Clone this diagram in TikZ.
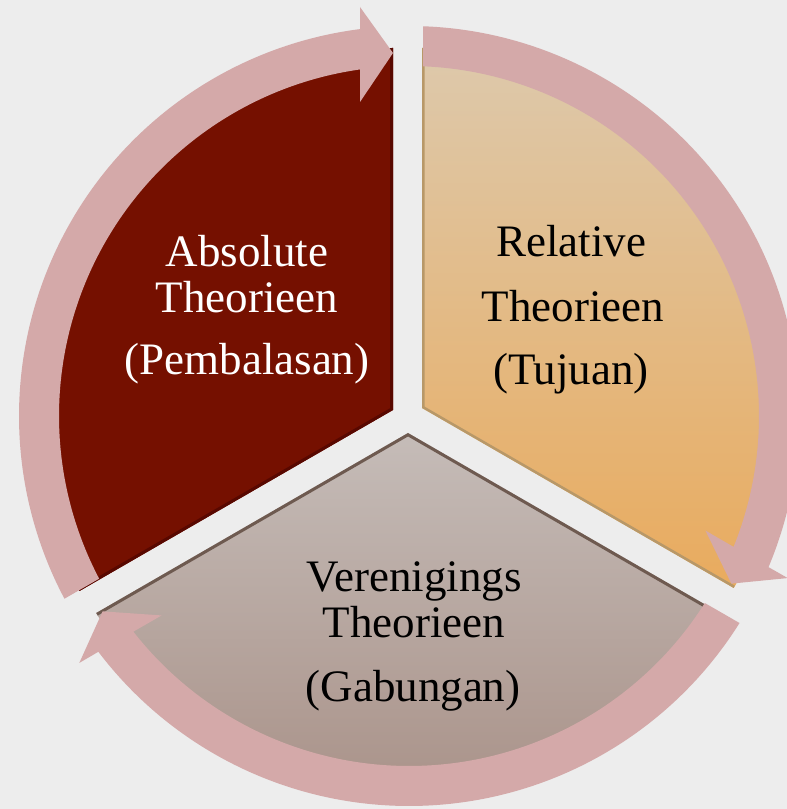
\documentclass[tikz,border=0pt]{standalone}
\usepackage{fontspec}
\setmainfont{Liberation Serif}
\definecolor{bgpaper}{RGB}{237,237,237}
\definecolor{segred}{RGB}{117,16,0}
\definecolor{segreddark}{RGB}{88,8,0}
\definecolor{tantop}{RGB}{221,201,172}
\definecolor{tanbot}{RGB}{233,171,94}
\definecolor{tanedge}{RGB}{184,152,104}
\definecolor{graytop}{RGB}{197,188,184}
\definecolor{graybot}{RGB}{166,141,131}
\definecolor{grayedge}{RGB}{110,90,80}
\definecolor{ringpink}{RGB}{212,169,169}
\tikzset{
  lbl/.style={font=\fontsize{45}{47}\selectfont, inner sep=0pt, anchor=base},
  lblw/.style={lbl, text=white},
  lblb/.style={lbl, text=black},
  ringarrow/.style={fill=ringpink},
}
\begin{document}
\begin{tikzpicture}[x=1pt,y=1pt]
\useasboundingbox (0,0) rectangle (787,809);
\fill[bgpaper] (0,0) rectangle (787,809);

% --- red segment
\fill[segred] (393,399) -- ++(90:362) arc[start angle=90,end angle=210,radius=362] -- cycle;
\begin{scope}
  \clip (393,399) -- ++(90:362) arc[start angle=90,end angle=210,radius=362] -- cycle;
  \draw[line width=6pt, segreddark] (393,399) ++(90:362) -- (393,399) -- ++(210:362);
\end{scope}

% --- tan segment
\shade[top color=tantop, bottom color=tanbot] (422,401) -- ++(-30:360) arc[start angle=-30,end angle=90,radius=360] -- cycle;
\begin{scope}
  \clip (422,401) -- ++(-30:360) arc[start angle=-30,end angle=90,radius=360] -- cycle;
  \draw[line width=5pt, tanedge] (422,401) ++(90:360) -- (422,401) -- ++(-30:360);
\end{scope}

% --- gray segment
\shade[top color=graytop, bottom color=graybot] (408,376) -- ++(210:360) arc[start angle=210,end angle=330,radius=360] -- cycle;
\begin{scope}
  \clip (408,376) -- ++(210:360) arc[start angle=210,end angle=330,radius=360] -- cycle;
  \draw[line width=6pt, grayedge] (408,376) ++(210:360) -- (408,376) -- ++(330:360);
\end{scope}

% --- circular arrows
\foreach \rot in {0,-120,120} {
  \begin{scope}[shift={(409,393)}, rotate=\rot]
    \fill[ringarrow] (207.94:390) arc[start angle=207.94,end angle=97.2,radius=390]
      -- (-49,409) -- (-16,363) -- (-49,314)
      -- (98.04:350) arc[start angle=98.04,end angle=207.7,radius=350] -- cycle;
  \end{scope}
}

% --- labels
\node[lblw] (absA) at (247,542) {Absolute};
\node[lblw] (absB) at (247,496) {Theorieen};
\node[lblw] (absC) at (247,434) {(Pembalasan)};

\node[lblb] (relA) at (571,552) {Relative};
\node[lblb] (relB) at (573,487) {Theorieen};
\node[lblb] (relC) at (571,424) {(Tujuan)};

\node[lblb] (verA) at (414,217) {Verenigings};
\node[lblb] (verB) at (414,171) {Theorieen};
\node[lblb] (verC) at (413,107) {(Gabungan)};
\end{tikzpicture}
\end{document}
